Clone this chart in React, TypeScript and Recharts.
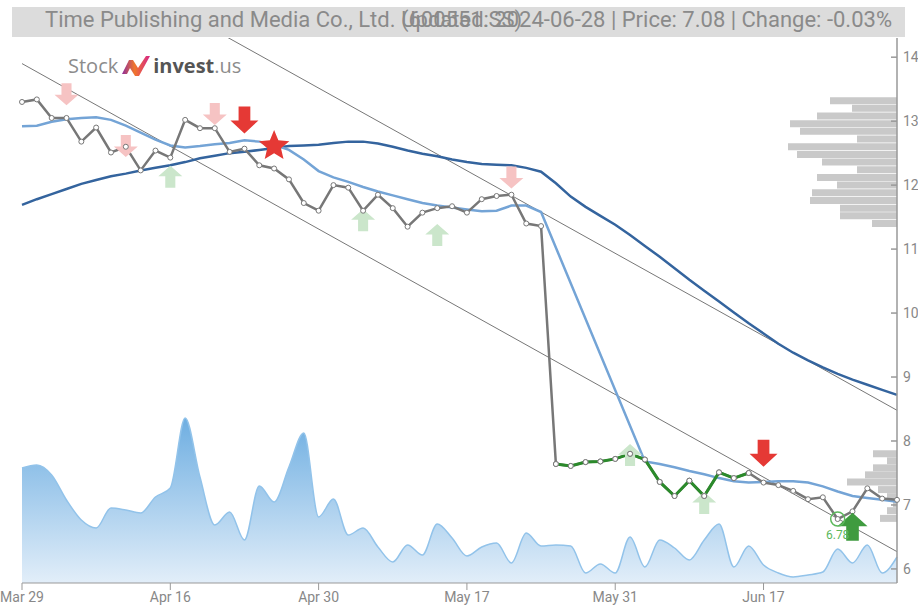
import React from 'react';
import { ComposedChart, BarChart, Bar, Line, Area, Scatter, XAxis, YAxis, ReferenceDot } from 'recharts';

// trading days shown on the chart
const dates = [
  'Mar 29', 'Apr 1', 'Apr 2', 'Apr 3', 'Apr 8', 'Apr 9', 'Apr 10', 'Apr 11', 'Apr 12', 'Apr 15',
  'Apr 16', 'Apr 17', 'Apr 18', 'Apr 19', 'Apr 22', 'Apr 23', 'Apr 24', 'Apr 25', 'Apr 26', 'Apr 29',
  'Apr 30', 'May 6', 'May 7', 'May 8', 'May 9', 'May 10', 'May 13', 'May 14', 'May 15', 'May 16',
  'May 17', 'May 20', 'May 21', 'May 22', 'May 23', 'May 24', 'May 27', 'May 28', 'May 29', 'May 30',
  'May 31', 'Jun 3', 'Jun 4', 'Jun 5', 'Jun 6', 'Jun 7', 'Jun 11', 'Jun 12', 'Jun 13', 'Jun 14',
  'Jun 17', 'Jun 18', 'Jun 19', 'Jun 20', 'Jun 21', 'Jun 24', 'Jun 25', 'Jun 26', 'Jun 27', 'Jun 28',
];
const tickLabels = ['Mar 29', 'Apr 16', 'Apr 30', 'May 17', 'May 31', 'Jun 17'];
const priceTicks = [6, 7, 8, 9, 10, 11, 12, 13, 14];

const closes = [
  13.30, 13.34, 13.05, 13.05, 12.68, 12.90, 12.51, 12.60, 12.23, 12.54,
  12.43, 13.02, 12.89, 12.89, 12.52, 12.57, 12.31, 12.26, 12.09, 11.72,
  11.60, 12.00, 11.96, 11.60, 11.85, 11.64, 11.35, 11.57, 11.64, 11.67,
  11.57, 11.78, 11.83, 11.85, 11.40, 11.36, 7.64, 7.61, 7.67, 7.68,
  7.72, 7.80, 7.71, 7.36, 7.14, 7.38, 7.14, 7.51, 7.42, 7.50,
  7.35, 7.31, 7.22, 7.09, 7.12, 6.78, 6.90, 7.26, 7.10, 7.08,
];

const maShort = [
  12.92, 12.93, 12.99, 13.03, 13.05, 13.06, 13.02, 12.93, 12.82, 12.71,
  12.62, 12.59, 12.61, 12.64, 12.66, 12.70, 12.68, 12.63, 12.55, 12.40,
  12.22, 12.12, 12.05, 11.97, 11.90, 11.84, 11.78, 11.72, 11.68, 11.65,
  11.62, 11.59, 11.60, 11.68, 11.68, 11.58, null, null, null, null,
  null, null, 7.68, 7.64, 7.59, 7.53, 7.48, 7.42, 7.37, 7.35,
  7.36, 7.37, 7.37, 7.35, 7.29, 7.21, 7.14, 7.11, 7.08, 7.05,
];

const maLong = [
  11.69, 11.78, 11.86, 11.94, 12.02, 12.08, 12.14, 12.18, 12.23, 12.27,
  12.31, 12.36, 12.42, 12.46, 12.50, 12.52, 12.55, 12.58, 12.61, 12.62,
  12.63, 12.66, 12.68, 12.68, 12.65, 12.60, 12.54, 12.49, 12.45, 12.40,
  12.36, 12.33, 12.32, 12.31, 12.27, 12.21, 12.03, 11.82, 11.66, 11.52,
  11.38, 11.22, 11.05, 10.88, 10.70, 10.52, 10.35, 10.18, 10.01, 9.84,
  9.68, 9.52, 9.38, 9.26, 9.15, 9.05, 8.96, 8.88, 8.80, 8.72,
];

const volume = [
  115, 118, 108, 83, 63, 55, 75, 73, 70, 86,
  95, 165, 106, 58, 71, 43, 97, 81, 116, 150,
  66, 84, 48, 55, 36, 21, 38, 28, 59, 45,
  27, 36, 40, 20, 50, 37, 38, 37, 10, 19,
  10, 46, 16, 43, 35, 23, 43, 59, 16, 37,
  18, 10, 6, 8, 11, 34, 20, 38, 10, 26,
];

// trend channel end points (first and last day)
const trendUpper = [16.10, 8.48];
const trendLower = [13.90, 6.27];

// highlighted stretch of the close line
const greenFrom = 'May 27';
const greenTo = 'Jun 14';

// signal markers
const weakDates = ['Apr 3', 'Apr 11', 'Apr 19', 'May 22', 'Apr 16', 'May 8', 'May 15', 'Jun 3', 'Jun 11'];
const weakLevels = [13.42, 12.61, 13.11, 12.12, 12.13, 11.45, 11.22, 7.78, 7.03];
const weakKinds = ['sellWeak', 'sellWeak', 'sellWeak', 'sellWeak', 'buyWeak', 'buyWeak', 'buyWeak', 'buyWeak', 'buyWeak'];
const strongDates = ['Apr 23', 'Jun 17', 'Apr 25', 'Jun 25'];
const strongLevels = [13.02, 7.81, 12.61, 6.66];
const strongKinds = ['sell', 'sell', 'star', 'buy'];

// volume profile on the right
const profileLevels = [
  13.32, 13.20, 13.08, 12.96, 12.84, 12.72, 12.60, 12.48, 12.36, 12.24, 12.12, 12.00, 11.88, 11.76, 11.64, 11.52, 11.40,
  7.80, 7.69, 7.58, 7.47, 7.36, 7.24, 7.13, 7.02, 6.91, 6.79,
];
const profileVolume = [
  67, 45, 80, 107, 97, 40, 109, 100, 75, 40, 80, 60, 85, 87, 57, 57, 25,
  24, 10, 24, 32, 50, 19, 10, 4, 10, 17,
];

const idx = (d: string) => dates.indexOf(d);
const g0 = idx(greenFrom);
const g1 = idx(greenTo);
const last = dates.length - 1;

const rows = dates.map((d, i) => ({
  i,
  d,
  close: closes[i],
  green: i >= g0 && i <= g1 ? closes[i] : null,
  maS: maShort[i],
  maL: maLong[i],
  vol: volume[i],
  up: i === 0 ? trendUpper[0] : i === last ? trendUpper[1] : null,
  lo: i === 0 ? trendLower[0] : i === last ? trendLower[1] : null,
}));

const weakMarkers = weakDates.map((d, k) => ({ i: idx(d), v: weakLevels[k], kind: weakKinds[k] }));
const strongMarkers = strongDates.map((d, k) => ({ i: idx(d), v: strongLevels[k], kind: strongKinds[k] }));
const profile = profileLevels.map((p, k) => ({ p, w: profileVolume[k] }));

const lowVal = Math.min(...closes);
const lowIdx = closes.indexOf(lowVal);

const W = 918;
const H = 610;
const M = { top: 38, right: 21, bottom: 27, left: 22 };
const DOMAIN: [number, number] = [5.78, 14.3];
const FONT = 'Roboto, sans-serif';

const arrowPts = (cx: number, cy: number, w: number, h: number, down: boolean) => {
  const sw = w * 0.42;
  const s = down ? 1 : -1;
  const top = cy - (s * h) / 2;
  const mid = cy + s * h * 0.02;
  const tip = cy + (s * h) / 2;
  return [
    [cx - sw / 2, top], [cx + sw / 2, top], [cx + sw / 2, mid], [cx + w / 2, mid],
    [cx, tip], [cx - w / 2, mid], [cx - sw / 2, mid],
  ].map(p => p.join(',')).join(' ');
};

const starPts = (cx: number, cy: number, r: number) => {
  const pts = [];
  for (let k = 0; k < 10; k++) {
    const a = -Math.PI / 2 + (k * Math.PI) / 5;
    const rr = k % 2 === 0 ? r : r * 0.45;
    pts.push(`${cx + rr * Math.cos(a)},${cy + rr * Math.sin(a)}`);
  }
  return pts.join(' ');
};

const MarkerShape = (props: any) => {
  const { cx, cy, payload } = props;
  switch (payload.kind) {
    case 'sellWeak':
      return <polygon points={arrowPts(cx, cy, 24, 22, true)} fill="#f6c3c3" />;
    case 'buyWeak':
      return <polygon points={arrowPts(cx, cy, 24, 22, false)} fill="#cbe6cb" />;
    case 'sell':
      return <polygon points={arrowPts(cx, cy, 28, 27, true)} fill="#e53935" />;
    case 'buy':
      return <polygon points={arrowPts(cx, cy, 30, 28, false)} fill="#3f9b3f" />;
    case 'star':
      return <polygon points={starPts(cx, cy, 16)} fill="#e53935" />;
    default:
      return null;
  }
};

const PriceTick = (props: any) => {
  const { x, y, payload } = props;
  return (
    <g>
      <line x1={x - 6} x2={x} y1={y} y2={y} stroke="#999" strokeWidth={1.5} />
      <text x={x + 6} y={y + 5} fill="#888" fontSize={14} fontFamily={FONT}>{payload.value}</text>
    </g>
  );
};

const dot = { r: 2.5, fill: '#fff', stroke: '#777', strokeWidth: 1 };

export default function App() {
  return (
    <div style={{ position: 'absolute', left: 0, top: 0, width: W, height: H, overflow: 'hidden', background: '#fff' }}>
      <div style={{ position: 'absolute', left: 0, top: 0 }}>
        <BarChart width={W} height={H} data={profile} layout="vertical" margin={M}>
          <XAxis type="number" hide reversed domain={[0, 875]} height={0} />
          <YAxis type="number" dataKey="p" hide reversed domain={DOMAIN} width={0} />
          <Bar dataKey="w" fill="#c9c9c9" barSize={7} isAnimationActive={false} />
        </BarChart>
      </div>
      <div style={{ position: 'absolute', left: 0, top: 0 }}>
        <ComposedChart width={W} height={H} data={rows} margin={{ top: M.top, right: 0, bottom: 0, left: M.left }}>
          <defs>
            <linearGradient id="volFill" gradientUnits="userSpaceOnUse" x1="0" y1="415" x2="0" y2="583">
              <stop offset="0%" stopColor="#6cade1" />
              <stop offset="100%" stopColor="#e2eef9" />
            </linearGradient>
          </defs>
          <XAxis
            type="number"
            dataKey="i"
            domain={[0, last]}
            ticks={tickLabels.map(idx)}
            tickFormatter={(v: number) => dates[v]}
            height={27}
            stroke="#999"
            tickSize={7}
            tick={{ fill: '#888', fontSize: 14, fontFamily: FONT }}
          />
          <YAxis
            yAxisId="p"
            orientation="right"
            type="number"
            domain={DOMAIN}
            ticks={priceTicks}
            allowDataOverflow
            width={21}
            axisLine={{ stroke: '#999', strokeWidth: 1.5 }}
            tickLine={false}
            tickSize={0}
            tickMargin={0}
            tick={<PriceTick />}
          />
          <YAxis yAxisId="v" hide domain={[0, 545]} width={0} />
          <Area yAxisId="v" type="monotone" dataKey="vol" stroke="#92c3ea" strokeWidth={1.5} fill="url(#volFill)" fillOpacity={1} isAnimationActive={false} />
          <Scatter yAxisId="p" data={weakMarkers} dataKey="v" shape={<MarkerShape />} isAnimationActive={false} />
          <Line yAxisId="p" type="linear" dataKey="up" stroke="#777" strokeWidth={1} dot={false} connectNulls isAnimationActive={false} />
          <Line yAxisId="p" type="linear" dataKey="lo" stroke="#777" strokeWidth={1} dot={false} connectNulls isAnimationActive={false} />
          <Line yAxisId="p" type="linear" dataKey="maL" stroke="#34649e" strokeWidth={2.5} dot={false} isAnimationActive={false} />
          <Line yAxisId="p" type="linear" dataKey="maS" stroke="#74a4d6" strokeWidth={2.5} dot={false} connectNulls isAnimationActive={false} />
          <Line yAxisId="p" type="linear" dataKey="close" stroke="#777" strokeWidth={2.5} dot={dot} isAnimationActive={false} />
          <Line yAxisId="p" type="linear" dataKey="green" stroke="#2b8a2b" strokeWidth={3} dot={dot} isAnimationActive={false} />
          <Scatter yAxisId="p" data={strongMarkers} dataKey="v" shape={<MarkerShape />} isAnimationActive={false} />
          <ReferenceDot
            yAxisId="p"
            x={lowIdx}
            y={lowVal}
            r={7}
            fill="none"
            stroke="#5cb85c"
            strokeWidth={1.5}
            label={{ value: lowVal.toFixed(2), position: 'bottom', fill: '#5cb85c', fontSize: 12, offset: 4, fontFamily: FONT }}
          />
        </ComposedChart>
      </div>
      <div style={{ position: 'absolute', left: 12, top: 7, width: 893, height: 30, background: '#dcdcdc' }} />
      <div style={{ position: 'absolute', left: 45, top: 7, fontFamily: FONT, fontSize: 22, color: '#8a8a8a', whiteSpace: 'nowrap' }}>
        Time Publishing and Media Co., Ltd. (600551.SS)
      </div>
      <div style={{ position: 'absolute', right: 26, top: 7, fontFamily: FONT, fontSize: 22, color: '#8a8a8a', whiteSpace: 'nowrap' }}>
        Updated: 2024-06-28 | Price: 7.08 | Change: -0.03%
      </div>
      <div style={{ position: 'absolute', left: 68, top: 52, display: 'flex', alignItems: 'center', fontFamily: '"Open Sans", sans-serif', fontSize: 20, whiteSpace: 'nowrap' }}>
        <span style={{ color: '#8c8c8c' }}>Stock</span>
        <svg width={30} height={24} viewBox="0 0 30 24" style={{ margin: '0 2px 0 3px' }}>
          <defs>
            <linearGradient id="logoG" x1="0" y1="0" x2="1" y2="0">
              <stop offset="0%" stopColor="#8e2d9c" />
              <stop offset="45%" stopColor="#f0762c" />
              <stop offset="100%" stopColor="#d6268a" />
            </linearGradient>
          </defs>
          <polygon points="1,20 8,6 12,6 17,14 25,2 29,2 18,22 14,22 9,14 6,20" fill="url(#logoG)" />
        </svg>
        <span style={{ color: '#555', fontWeight: 700 }}>invest</span>
        <span style={{ color: '#8c8c8c' }}>.us</span>
      </div>
    </div>
  );
}
